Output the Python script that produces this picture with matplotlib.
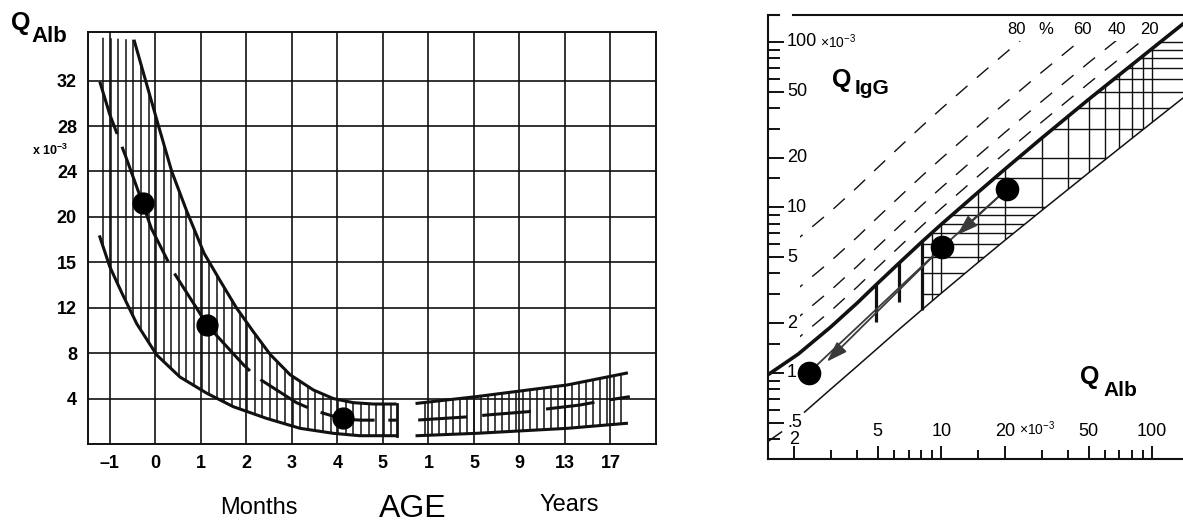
import numpy as np
import matplotlib
matplotlib.use('Agg')
import matplotlib.pyplot as plt
from matplotlib.patches import Polygon
from matplotlib.transforms import blended_transform_factory as blend
from matplotlib.ticker import FixedLocator, NullFormatter

plt.rcParams['font.family'] = ['Liberation Sans', 'DejaVu Sans']
plt.rcParams['mathtext.fontset'] = 'custom'
plt.rcParams['mathtext.rm'] = 'Liberation Sans'
plt.rcParams['mathtext.bf'] = 'Liberation Sans:bold'
plt.rcParams['mathtext.it'] = 'Liberation Sans:italic'

# ------------------------------------------------------------------ data
# left chart: Q_Alb (x10^-3) versus age
y_tick_values = [4, 8, 12, 15, 20, 24, 28, 32]
y_grid_levels = [0, 4, 8, 12, 15, 20, 24, 28, 32, 36, 40]   # paper grid rows
month_ticks = [-1, 0, 1, 2, 3, 4, 5]
month_labels = ['\u20131', '0', '1', '2', '3', '4', '5']
year_ticks = [1, 5, 9, 13, 17]
year_labels = ['1', '5', '9', '13', '17']

upper_m = [-0.47, 0.07, 0.36, 0.69, 1.07, 1.42, 1.78, 2.15, 2.52, 2.96, 3.47, 3.91, 4.35, 4.79, 5.3]
upper_v = [35.6, 28.0, 24.0, 20.5, 16.0, 13.8, 12.0, 9.9, 7.9, 6.1, 4.76, 4.0, 3.64, 3.52, 3.52]
lower_m = [-1.22, -1.0, -0.74, -0.41, 0.03, 0.54, 1.13, 1.71, 2.44, 3.18, 3.91, 4.49, 5.3]
lower_v = [17.8, 14.7, 13.0, 10.6, 7.84, 5.9, 4.47, 3.29, 2.26, 1.38, 0.94, 0.73, 0.73]
mid_m = [-1.22, -1.0, -0.65, -0.28, -0.09, 0.39, 0.98, 1.13, 1.93, 2.22, 3.10, 3.51, 4.13, 4.53, 5.3]
mid_v = [31.9, 29.0, 25.3, 21.2, 18.75, 14.4, 11.5, 10.5, 7.0, 5.9, 3.64, 2.93, 2.18, 2.1, 2.1]
dots_m = [-0.28, 1.13, 4.13]
dots_v = [21.2, 10.5, 2.25]

band_yr = [0.0, 5.2, 13.2, 18.4]
band_top = [3.58, 4.17, 5.2, 6.24]
band_bot = [0.73, 0.94, 1.38, 1.82]
mid_yr = [0.1, 4.6, 6.2, 9.8, 11.1, 14.3, 15.9, 18.7]
mid_yr_v = [2.11, 2.4, 2.56, 2.85, 3.05, 3.43, 3.73, 4.17]

# right chart: Q_IgG versus Q_Alb (x10^-3), log-log
x_major = [2, 5, 10, 20, 50, 100]
x_minor = [3, 4, 6, 7, 8, 9, 15, 30, 40, 60, 70, 80, 90]
y_major = [0.5, 1, 2, 5, 10, 20, 50, 100]
y_minor = [0.4, 0.6, 0.7, 0.8, 0.9, 1.5, 3, 4, 6, 7, 8, 9, 15, 30, 40, 60, 70, 80, 90]
y_labels = ['.5', '1', '2', '5', '10', '20', '50', '100']
x_labels = ['2', '5', '10', '20', '50', '100']

qlim_x = [1.5, 2.1, 3, 4, 4.9, 6.3, 8.1, 10, 15, 20, 30, 50, 80, 110, 150]
qlim_y = [0.97, 1.3, 1.9, 2.65, 3.4, 4.6, 6.2, 7.9, 12.4, 17.0, 26.3, 45.0, 72.7, 100.6, 138.0]
qlow_x = [2.25, 3, 4, 4.9, 6.3, 8.1, 10, 15, 20, 30, 50, 80, 150]
qlow_y = [0.58, 0.80, 1.10, 1.38, 1.83, 2.41, 3.03, 4.67, 6.32, 9.6, 16.2, 26.1, 49.2]
fractions = [20, 40, 60, 80]          # % intrathecal fraction lines
bars_x = [4.9, 6.3, 8.1]
bars_lo = [2.03, 2.67, 2.4]
bars_hi = [3.45, 4.7, 6.2]
hatch_vx = [9, 10, 15, 20, 30, 40, 50, 60, 70, 80, 90, 100]
hatch_hy = [3, 4, 5, 6, 7, 8, 9, 10, 15, 20, 30, 40, 50, 60, 70, 80, 90, 100]
pts_x = [20.6, 10.1, 2.35]
pts_y = [13.0, 5.74, 1.0]
arrow_tips_x = [11.9, 2.87]
arrow_tips_y = [6.82, 1.17]
corner_x = [1.53, 1.75]
corner_y = [0.39, 0.44]

# ------------------------------------------------------------------ figure
W, H = 1183, 525
def fx(x):
    return x / W
def fy(y):
    return 1 - y / H

fig = plt.figure(figsize=(W / 100, H / 100), dpi=100)
K = '#111111'

# ================================================================ LEFT
ax = fig.add_axes([fx(88), fy(444), fx(656) - fx(88), fy(32) - fy(444)])
g_v = np.array(y_grid_levels, float)
g_i = np.arange(len(g_v), dtype=float)
def fwd(v):
    return np.interp(v, g_v, g_i)
def inv(i):
    return np.interp(i, g_i, g_v)
ax.set_yscale('function', functions=(fwd, inv))
ax.set_ylim(0, float(inv(9.07)))
ax.set_xlim(-1.48, 11.0)
for s in ax.spines.values():
    s.set_linewidth(1.4)
    s.set_color(K)

ax.set_yticks(y_tick_values)
ax.set_yticklabels([str(v) for v in y_tick_values], fontsize=13, fontweight='bold')
ax.yaxis.set_minor_locator(FixedLocator([]))
ax.set_xticks(month_ticks)
ax.set_xticklabels(month_labels, fontsize=13, fontweight='bold')
ax.tick_params(length=0, pad=8)
ax.grid(True, color=K, lw=1.2)
ax.set_axisbelow(True)

# years axis (linear in years) sharing the same grid
axy = ax.twiny()
p0, p1 = ax.get_xlim()
axy.set_xlim(1 + 4 * (p0 - 6), 1 + 4 * (p1 - 6))
axy.xaxis.tick_bottom()
axy.set_xticks(year_ticks)
axy.set_xticklabels(year_labels, fontsize=13, fontweight='bold')
axy.tick_params(length=0, pad=8)
axy.grid(True, axis='x', color=K, lw=1.2)
for s in axy.spines.values():
    s.set_visible(False)

# hatched months band
poly = np.vstack([[[lower_m[0], 35.8]],
                  np.column_stack([upper_m, upper_v]),
                  np.column_stack([lower_m[::-1], lower_v[::-1]])])
clip = Polygon(poly, closed=True, transform=ax.transData)
hx = np.arange(-1.15, 5.31, 1 / 6)
vl = ax.vlines(hx, 0.01, 39, color=K, lw=1.1, zorder=3)
vl.set_clip_path(clip)
ax.plot(upper_m, upper_v, color=K, lw=2.2, zorder=4, solid_capstyle='butt')
ax.plot(lower_m, lower_v, color=K, lw=2.2, zorder=4)
ax.plot([upper_m[-1], lower_m[-1]], [upper_v[-1], lower_v[-1]], color=K, lw=2.0, zorder=4)
ax.plot(mid_m, mid_v, color=K, lw=2.2, ls=(0, (18, 4.5)), zorder=4)
ax.plot(dots_m, dots_v, 'o', color='black', ms=15, zorder=6)

# hatched years band
ypoly = np.vstack([np.column_stack([band_yr, band_top]),
                   np.column_stack([band_yr[::-1], band_bot[::-1]])])
yclip = Polygon(ypoly, closed=True, transform=axy.transData)
ph = np.arange(5.92, 10.25, 0.154)
hyr = 1 + 4 * (ph - 6)
yl = axy.vlines(hyr, 0.01, 39, color=K, lw=1.1, zorder=3)
yl.set_clip_path(yclip)
axy.plot(band_yr, band_top, color=K, lw=2.2, zorder=4)
axy.plot(band_yr, band_bot, color=K, lw=2.2, zorder=4)
axy.plot(mid_yr, mid_yr_v, color=K, lw=2.2, ls=(0, (16, 5)), zorder=4)

fig.text(fx(11), fy(30), 'Q', fontsize=18, fontweight='bold', va='baseline', ha='left')
fig.text(fx(31), fy(42), 'Alb', fontsize=16, fontweight='bold', va='baseline', ha='left')
fig.text(fx(32), fy(150), r'x 10$^{\mathbf{-3}}$', fontsize=9, fontweight='bold', va='center', ha='left')
fig.text(fx(259), fy(508), 'Months', fontsize=17, ha='center', va='center')
fig.text(fx(413), fy(509), 'AGE', fontsize=23, ha='center', va='center')
fig.text(fx(569), fy(505), 'Years', fontsize=17, ha='center', va='center')

# ================================================================ RIGHT
ax2 = fig.add_axes([fx(768), fy(459), 1.0 - fx(768), fy(15) - fy(459)])
ax2.set_xscale('log')
ax2.set_yscale('log')
ax2.set_xlim(1.51, 140)
ax2.set_ylim(0.302, 145.6)
ax2.spines['right'].set_visible(False)
ax2.spines['top'].set_visible(False)
for s in ('left', 'bottom'):
    ax2.spines[s].set_linewidth(1.5)
    ax2.spines[s].set_color(K)
ax2.plot([0, 0.027], [1, 1], transform=ax2.transAxes, color=K, lw=1.5, clip_on=False)
ax2.plot([0.06, 1.0], [1, 1], transform=ax2.transAxes, color=K, lw=1.5, clip_on=False)

ax2.xaxis.set_major_locator(FixedLocator(x_major))
ax2.xaxis.set_minor_locator(FixedLocator(x_minor))
ax2.yaxis.set_major_locator(FixedLocator(y_major))
ax2.yaxis.set_minor_locator(FixedLocator(y_minor))
for a in (ax2.xaxis, ax2.yaxis):
    a.set_major_formatter(NullFormatter())
    a.set_minor_formatter(NullFormatter())
ax2.tick_params(axis='x', which='major', direction='in', length=9.5, width=1.4, color=K, top=False)
ax2.tick_params(axis='x', which='minor', direction='in', length=6.5, width=1.4, color=K, top=False)
ax2.tick_params(axis='y', which='major', direction='in', length=11.5, width=1.4, color=K, right=False)
ax2.tick_params(axis='y', which='minor', direction='in', length=8.5, width=1.4, color=K, right=False)

# cross-hatched region between the limit curves
qx = np.array(qlim_x); qy = np.array(qlim_y)
lx = np.array(qlow_x); ly = np.array(qlow_y)
m1 = qx >= bars_x[-1]
m2 = lx >= bars_x[-1]
rpoly = np.vstack([np.column_stack([qx[m1], qy[m1]]),
                   np.column_stack([lx[m2][::-1], ly[m2][::-1]])])
rclip = Polygon(rpoly, closed=True, transform=ax2.transData)
c1 = ax2.vlines(hatch_vx, 0.3, 200, color=K, lw=1.0, zorder=2)
c1.set_clip_path(rclip)
c2 = ax2.hlines(hatch_hy, 1.5, 200, color=K, lw=1.0, zorder=2)
c2.set_clip_path(rclip)

ax2.plot(qlim_x, qlim_y, color=K, lw=2.6, zorder=4)
ax2.plot(qlow_x, qlow_y, color=K, lw=1.1, zorder=4)
ax2.vlines(bars_x, bars_lo, bars_hi, color=K, lw=2.3, zorder=4)
ax2.plot(corner_x, corner_y, color=K, lw=1.1)

# intrathecal fraction lines
fclip = Polygon([[2.15, 0.3], [2.15, 102], [200, 102], [200, 0.3]], closed=True,
                transform=ax2.transData)
for f in fractions:
    ln, = ax2.plot(qlim_x, qy / (1 - f / 100.0), color=K, lw=1.0, ls=(0, (11, 9)), zorder=3)
    ln.set_clip_path(fclip)

# patient course
ax2.plot(pts_x[:2], pts_y[:2], color='#3a3a3a', lw=1.3, zorder=5)
ax2.plot(pts_x[1:], pts_y[1:], color='#3a3a3a', lw=1.3, zorder=5)
for i in range(2):
    ax2.annotate('', xy=(arrow_tips_x[i], arrow_tips_y[i]), xytext=(pts_x[i], pts_y[i]),
                 arrowprops=dict(arrowstyle='-|>,head_length=0.9,head_width=0.3',
                                 color='#3a3a3a', lw=1.3, mutation_scale=14,
                                 shrinkA=0, shrinkB=0), zorder=5)
ax2.plot(pts_x, pts_y, 'o', color='black', ms=16, zorder=6)

ty = blend(ax2.transAxes, ax2.transData)
for v, lab in zip(y_major, y_labels):
    ax2.text(0.046, v, lab, transform=ty, fontsize=13, ha='left', va='center', zorder=1)
ax2.text(fx(820), 100, r'$\times$10$^{-3}$', transform=blend(fig.transFigure, ax2.transData),
         fontsize=10, ha='left', va='center')
tx = blend(ax2.transData, ax2.transAxes)
for v, lab in zip(x_major, x_labels):
    yy = 0.043 if v == 2 else 0.063
    ax2.text(v, yy, lab, transform=tx, fontsize=13, ha='center', va='center')
fig.text(fx(1019), fy(429), r'$\times$10$^{-3}$', fontsize=10, ha='left', va='center')

fig.text(fx(832), fy(87), 'Q', fontsize=18, fontweight='bold', va='baseline', ha='left')
fig.text(fx(855), fy(94), 'IgG', fontsize=15, fontweight='bold', va='baseline', ha='left')
fig.text(fx(1080), fy(384), 'Q', fontsize=18, fontweight='bold', va='baseline', ha='left')
fig.text(fx(1103), fy(396), 'Alb', fontsize=15, fontweight='bold', va='baseline', ha='left')

for lab, xp in zip(['80', '%', '60', '40', '20'], [1017, 1046, 1082, 1117, 1149]):
    fig.text(fx(xp), fy(30), lab, fontsize=12, ha='center', va='center')

fig.savefig('out.png', dpi=100)
